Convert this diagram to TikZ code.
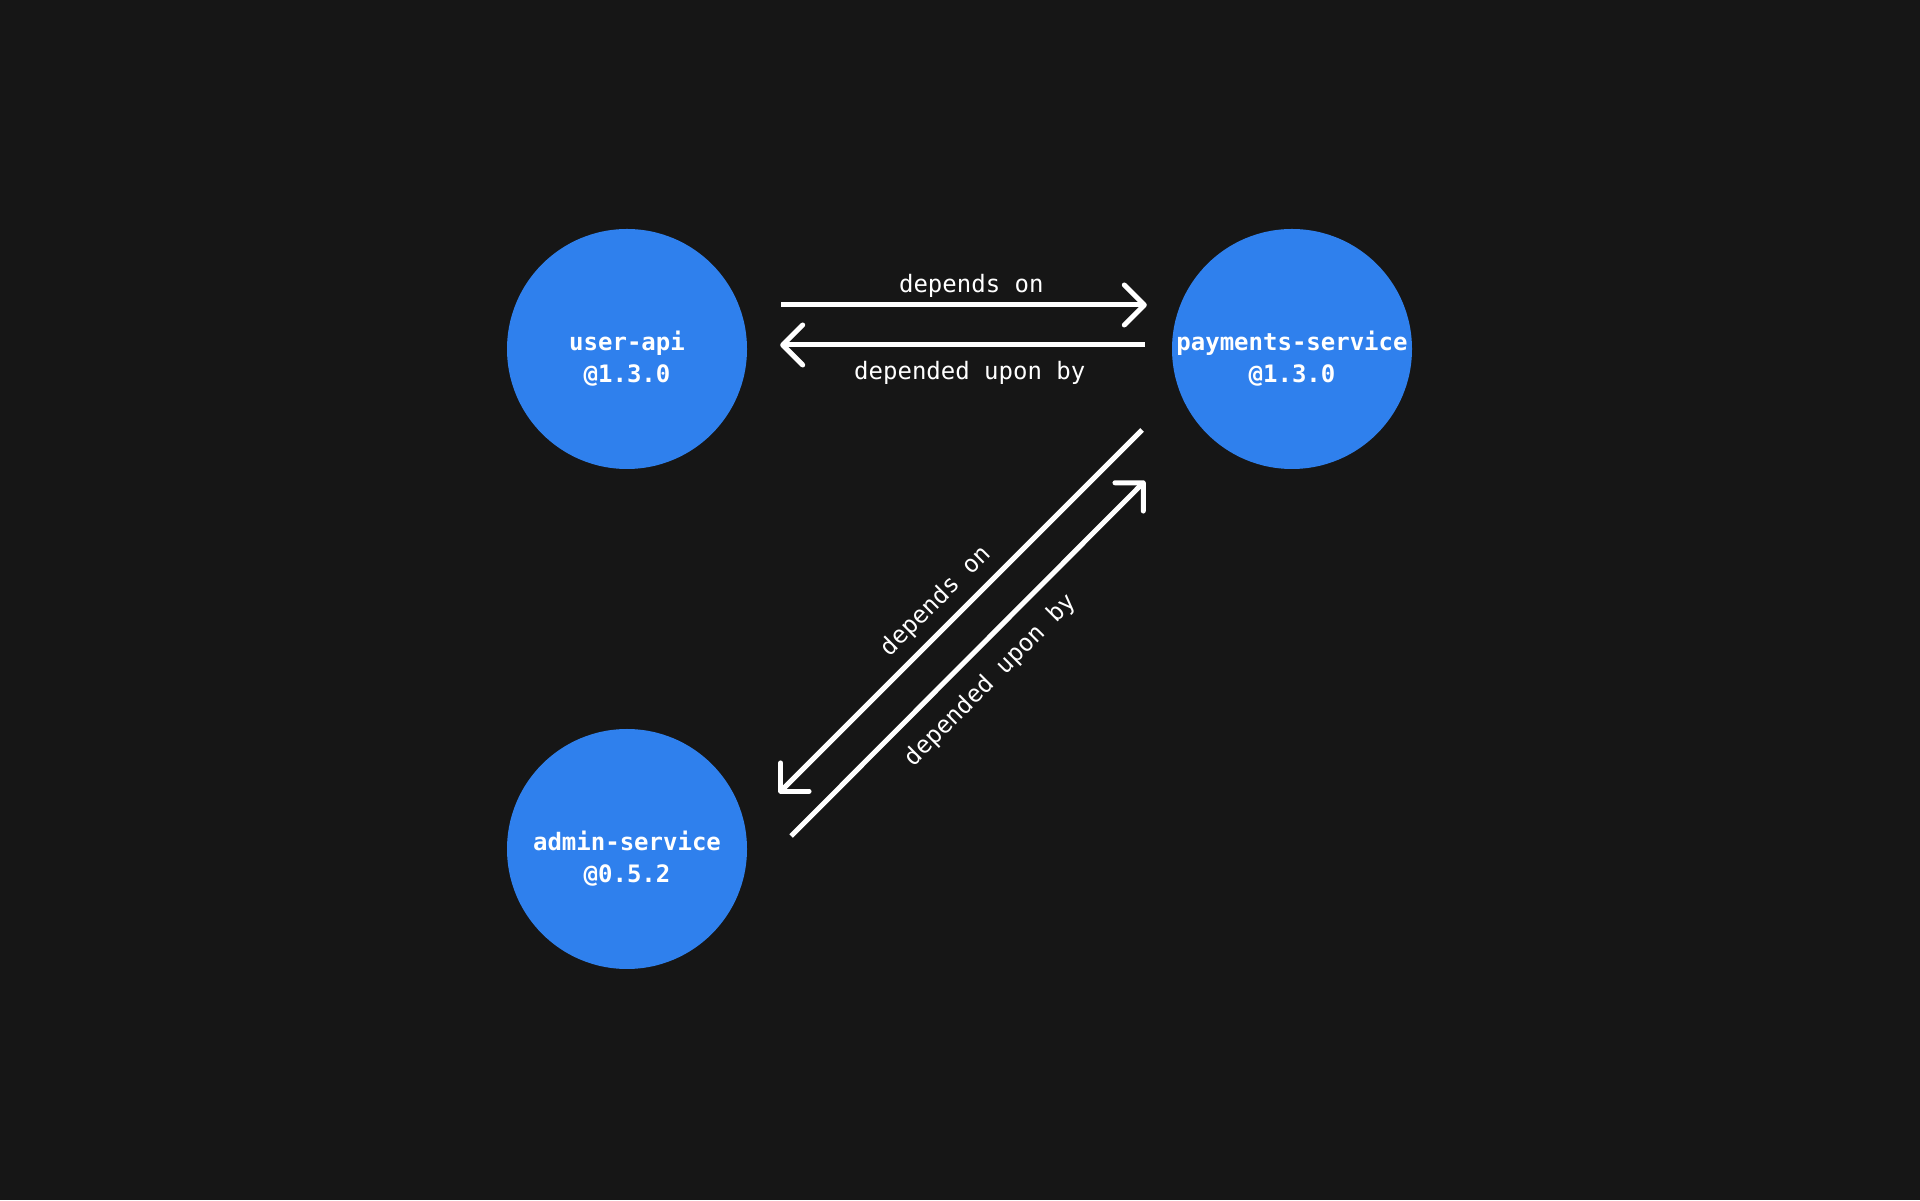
\documentclass[tikz,border=0pt]{standalone}
\usepackage{fontspec}
\setmonofont{DejaVu Sans Mono}
\usetikzlibrary{arrows.meta}
\definecolor{bgdark}{HTML}{161616}
\definecolor{pkgblue}{HTML}{2F80ED}

\begin{document}
\begin{tikzpicture}[x=1pt,y=1pt,
  pkg/.style={circle,fill=pkgblue,minimum size=240pt,inner sep=-2pt,text=white,align=center,font=\ttfamily\bfseries\fontsize{24}{32}\selectfont},
  dep/.style={draw=white,line width=5pt,-{Straight Barb[length=20pt,width=40pt,line cap=round,line join=round]}},
  rel/.style={text=white,inner sep=0pt,anchor=base,font=\ttfamily\fontsize{24}{32}\selectfont}]
\fill[bgdark] (0,0) rectangle (1920,1200);
\useasboundingbox (0,0) rectangle (1920,1200);
\foreach \n/\x/\y/\name/\ver in {ua/627/851/user-api/1.3.0, ps/1292/851/payments-service/1.3.0, as/627/351/admin-service/0.5.2}{%
  \node[pkg] (\n) at (\x,\y) {\rule{0pt}{38pt}\name\\@\ver};}
\draw[dep] ([shift={(34,44)}]ua.east) -- node[rel,pos=.52,yshift=12pt] {depends on} ([shift={(-25,44)}]ps.west);
\draw[dep] ([shift={(-27,4)}]ps.west) -- node[rel,pos=.48,yshift=-35pt] {depended upon by} ([shift={(33,4)}]ua.east);
\draw[dep] ([shift={(-65,4)}]ps.south west) -- node[rel,sloped,pos=.52,yshift=18pt] {depends on} ([shift={(67,-29)}]as.north east);
\draw[dep] ([shift={(44,13)}]as.east) -- node[rel,sloped,pos=.5,yshift=-38pt] {depended upon by} ([shift={(-62,-47)}]ps.south west);
\end{tikzpicture}
\end{document}
